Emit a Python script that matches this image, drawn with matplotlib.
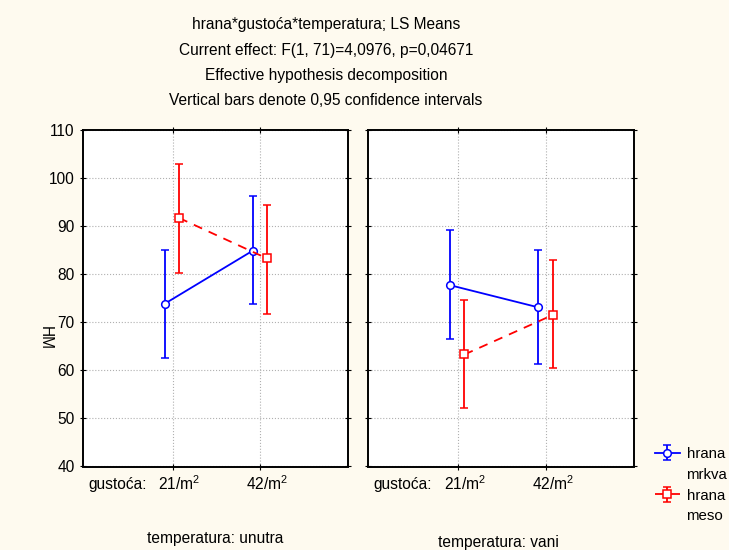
import matplotlib.pyplot as plt
import matplotlib.transforms as mtransforms
from matplotlib.lines import Line2D

plt.rcParams['font.family'] = ['Liberation Sans', 'DejaVu Sans']
plt.rcParams['font.size'] = 11.2
plt.rcParams['mathtext.fontset'] = 'custom'
plt.rcParams['mathtext.rm'] = 'Liberation Sans'
plt.rcParams['mathtext.default'] = 'regular'

# data
gustoca = ['21/m$^2$', '42/m$^2$']
temperatura = ['unutra', 'vani']

# unutra
mrkva_unutra = [73.9, 84.9]
mrkva_unutra_lo = [62.5, 73.7]
mrkva_unutra_hi = [85.1, 96.3]
meso_unutra = [91.7, 83.3]
meso_unutra_lo = [80.3, 71.8]
meso_unutra_hi = [103.0, 94.4]

# vani
mrkva_vani = [77.7, 73.1]
mrkva_vani_lo = [66.6, 61.3]
mrkva_vani_hi = [89.2, 85.1]
meso_vani = [63.3, 71.5]
meso_vani_lo = [52.2, 60.4]
meso_vani_hi = [74.7, 82.9]

bg = '#fefaef'
blue = '#0000ff'
red = '#ff0000'
fs = 11.2

fig = plt.figure(figsize=(7.29, 5.5), dpi=100, facecolor=bg)
ax1 = fig.add_axes([83/729, 1-466.5/550, 265/729, 336.5/550])
ax2 = fig.add_axes([368/729, 1-466.5/550, 266/729, 336.5/550])

x = [0, 1]
panels = [
    (ax1, mrkva_unutra, mrkva_unutra_lo, mrkva_unutra_hi, meso_unutra, meso_unutra_lo, meso_unutra_hi),
    (ax2, mrkva_vani, mrkva_vani_lo, mrkva_vani_hi, meso_vani, meso_vani_lo, meso_vani_hi),
]

handles = []
for ax, m, mlo, mhi, s, slo, shi in panels:
    xb = [v - 0.085 for v in x]
    xr = [v + 0.075 for v in x]
    eb = ax.errorbar(xb, m, yerr=[[a - b for a, b in zip(m, mlo)], [b - a for a, b in zip(m, mhi)]],
                     color=blue, lw=1.3, marker='o', ms=5.5, mfc='white', mec=blue, mew=1.1,
                     capsize=3, capthick=1.3, elinewidth=1.3, zorder=3)
    er = ax.errorbar(xr, s, yerr=[[a - b for a, b in zip(s, slo)], [b - a for a, b in zip(s, shi)]],
                     color=red, lw=1.3, ls='--', dashes=(5, 4), marker='s', ms=5.5, mfc='white', mec=red,
                     mew=1.1, capsize=3, capthick=1.3, elinewidth=1.3, zorder=3)
    handles = [eb, er]
    ax.set_xlim(-1.02, 2.0)
    ax.set_ylim(40, 110)
    ax.set_yticks(range(40, 111, 10))
    ax.set_xticks(x)
    ax.set_xticklabels(gustoca)
    ax.grid(True, ls=':', color='#b0b0b0', lw=0.8)
    ax.set_axisbelow(True)
    for sp in ax.spines.values():
        sp.set_linewidth(1.4)
    ax.tick_params(axis='both', direction='inout', length=5, width=0.8,
                   top=True, right=True, labelsize=fs)
    ax.tick_params(axis='x', pad=3)
    off = mtransforms.ScaledTranslation(7/100, 0, fig.dpi_scale_trans)
    for lab in ax.get_xticklabels():
        lab.set_transform(lab.get_transform() + off)

ax2.set_yticklabels([])

fig.text(88/729, 1-489/550, 'gustoća:', ha='left', va='baseline', fontsize=fs)
fig.text(373/729, 1-489/550, 'gustoća:', ha='left', va='baseline', fontsize=fs)
fig.text(215/729, 1-538/550, 'temperatura: unutra', ha='center', va='center', fontsize=fs)
fig.text(498/729, 1-542/550, 'temperatura: vani', ha='center', va='center', fontsize=fs)
fig.text(45/729, 1-338/550, 'HM', ha='center', va='center', rotation=270, fontsize=fs)

titles = ['hrana*gustoća*temperatura; LS Means',
          'Current effect: F(1, 71)=4,0976, p=0,04671',
          'Effective hypothesis decomposition',
          'Vertical bars denote 0,95 confidence intervals']
for i, t in enumerate(titles):
    fig.text(326/729, 1-(25 + i*25.3)/550, t, ha='center', va='center', fontsize=fs)

empty = Line2D([], [], ls='none')
fig.legend([handles[0], empty, handles[1], empty], ['hrana', 'mrkva', 'hrana', 'meso'],
           loc='upper left', bbox_to_anchor=(655/729, 1-447/550), frameon=False,
           handlelength=1.65, handletextpad=0.45, labelspacing=0.45, borderpad=0,
           borderaxespad=0, fontsize=10.8)

fig.savefig('out.png', dpi=100, facecolor=bg)
